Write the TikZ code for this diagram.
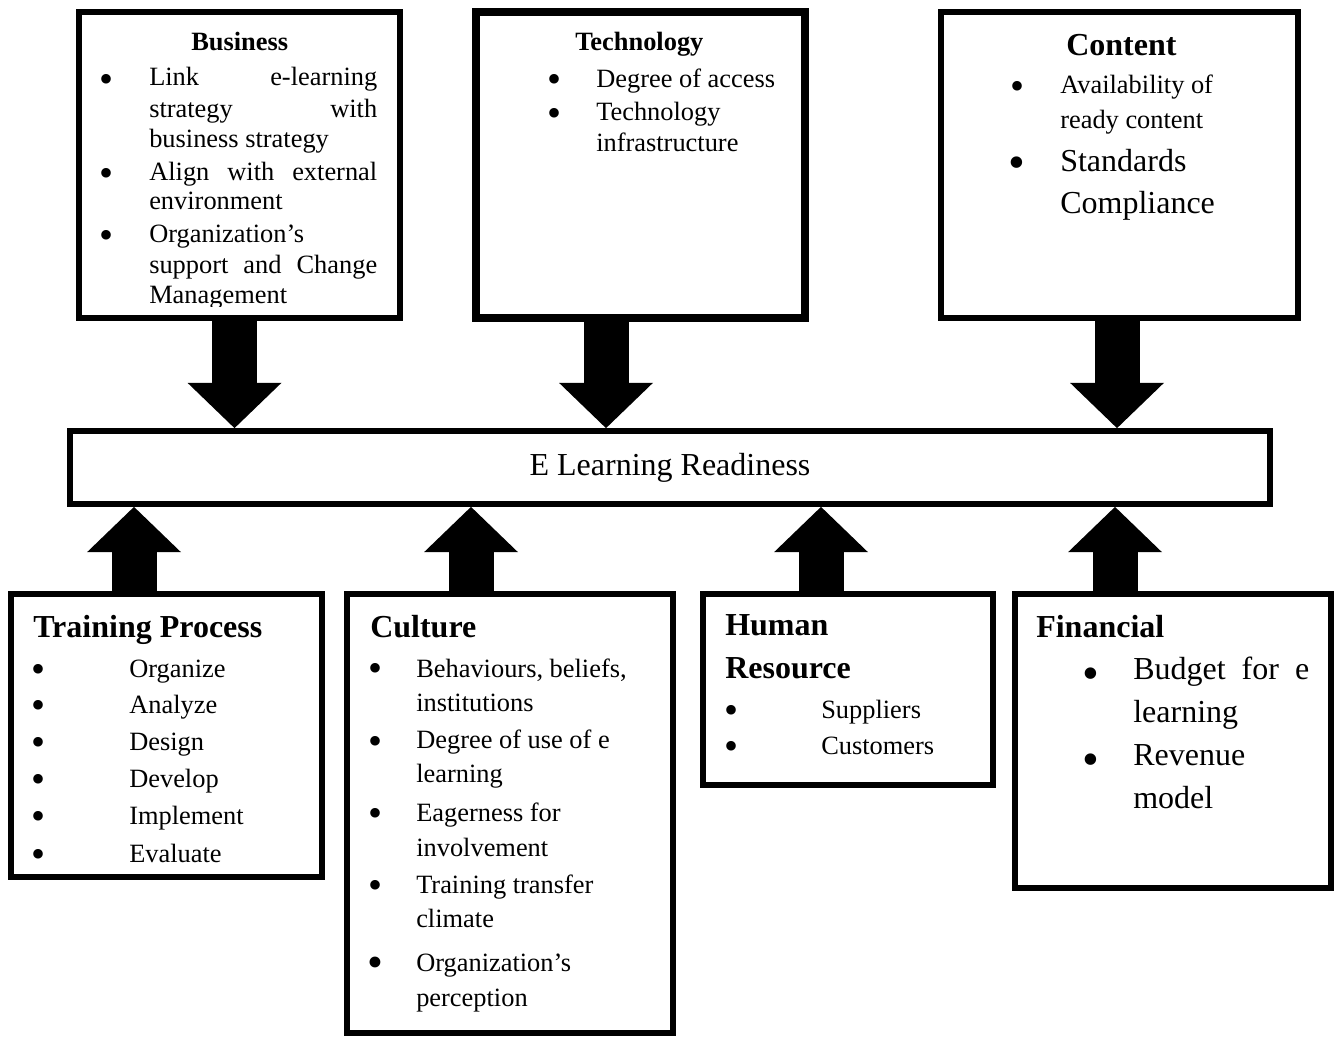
\documentclass[tikz,border=0pt]{standalone}
\usepackage{fontspec}
\setmainfont{Liberation Serif}
\usetikzlibrary{arrows.meta, calc, fit}
\newcommand\bodysize{\fontsize{19.8pt}{23pt}\selectfont}
\newcommand\headsize{\fontsize{24pt}{28pt}\selectfont}

\begin{document}
\begin{tikzpicture}[x=0.75pt, y=-0.75pt,
	box/.style={draw, line width=4.3pt, inner sep=0pt},
	txt/.style={anchor=base west, inner sep=0pt, font=\bodysize},
	bigtxt/.style={anchor=base west, inner sep=0pt, font=\headsize},
	head/.style={anchor=base west, inner sep=0pt, font=\headsize\bfseries},
	dot/.style={anchor=base, yshift=-10.2pt, inner sep=0pt, text height=14pt, text depth=0pt, font=\fontsize{30pt}{30pt}\selectfont},
	bigdot/.style={anchor=base, yshift=-12.2pt, inner sep=0pt, text height=17pt, text depth=0pt, font=\fontsize{36pt}{36pt}\selectfont},
	blockarrow/.style={line width=33.75pt, -{Triangle[length=34pt, width=70.5pt, line width=0pt]}}]
	\useasboundingbox (0,0) rectangle (1337,1036);

	\node[box, fit={(79,12) (400,318)}] (bus) {};
	\node[box, line width=5.5pt, fit={(476,12) (805,318)}] (tech) {};
	\node[box, fit={(941,12) (1298,318)}] (cont) {};
	\node[box, minimum width=900pt, minimum height=54.75pt] (elr) at (670,467.5) {};
	\node[font=\headsize, inner sep=0pt] (elr-label) at (elr.center) {E Learning Readiness};
	\node[box, fit={(11,594) (322,877)}] (train) {};
	\node[box, fit={(347,594) (673,1033)}] (cult) {};
	\node[box, fit={(703,594) (993,785)}] (hr) {};
	\node[box, fit={(1015,594) (1331,888)}] (fin) {};

	\foreach \n/\dx in {bus/-5, tech/-34.5, cont/-2.5}{
		\coordinate (\n-root) at ($(\n.south)+(\dx,0)$);
		\draw[blockarrow] (\n-root) -- (\n-root |- elr.north);
	}
	\foreach \n/\dx in {train/-32.5, cult/-39, hr/-27, fin/-58}{
		\coordinate (\n-root) at ($(\n.north)+(\dx,0)$);
		\draw[blockarrow] (\n-root) -- (\n-root |- elr.south);
	}

	\node[txt, font=\bodysize\bfseries] (bus-head) at (191,50) {Business};
	\foreach \y in {79,173,235} \node[dot] (bus-dot\y) at (107,\y) {\textbullet};
	\begin{scope}
		\clip (80,12) rectangle (400,306);
		\foreach \y/\t [count=\i] in {85/{\makebox[171pt][s]{Link e-learning}}, 117/{\makebox[171pt][s]{strategy with}}, 147/business strategy, 180/{\makebox[171pt][s]{Align with external}}, 209/environment, 242/Organization’s, 273/{\makebox[171pt][s]{support and Change}}, 303/Management}
			\node[txt] (bus-\i) at (149,\y) {\t};
	\end{scope}

	\node[txt, font=\bodysize\bfseries] (tech-head) at (575,50) {Technology};
	\foreach \y in {79,113} \node[dot] (tech-dot\y) at (554,\y) {\textbullet};
	\foreach \y/\t [count=\i] in {87/Degree of access, 120/Technology, 151/infrastructure}
		\node[txt] (tech-\i) at (596,\y) {\t};

	\node[head] (cont-head) at (1066,55) {Content};
	\node[dot] (cont-dot1) at (1017,86) {\textbullet};
	\node[bigdot] (cont-dot2) at (1017,162) {\textbullet};
	\node[txt] (cont-1) at (1060,93) {Availability of};
	\node[txt] (cont-2) at (1060,128) {ready content};
	\node[bigtxt] (cont-3) at (1060,171) {Standards};
	\node[bigtxt] (cont-4) at (1060,213) {Compliance};

	\node[head] (train-head) at (33,637) {Training Process};
	\foreach \y/\t [count=\i] in {677/Organize, 713/Analyze, 750/Design, 787/Develop, 824/Implement, 862/Evaluate}{
		\node[dot] (train-dot\i) at (39,\y-8) {\textbullet};
		\node[txt] (train-\i) at (129,\y) {\t};
	}

	\node[head] (cult-head) at (370,637) {Culture};
	\foreach \y in {668,741,813,885} \node[dot] (cult-dot\y) at (375,\y) {\textbullet};
	\node[dot, yshift=-1.4pt, font=\fontsize{34pt}{34pt}\selectfont] (cult-dot962) at (375,962) {\textbullet};
	\foreach \y/\t [count=\i] in {677/{Behaviours, beliefs,}, 711/institutions, 748/Degree of use of e, 782/learning, 821/Eagerness for, 856/involvement, 893/Training transfer, 927/climate, 971/Organization’s, 1006/perception}
		\node[txt] (cult-\i) at (416,\y) {\t};

	\node[head] (hr-head1) at (725,635) {Human};
	\node[head] (hr-head2) at (725,678) {Resource};
	\foreach \y/\t [count=\i] in {718/Suppliers, 754/Customers}{
		\node[dot] (hr-dot\i) at (731,\y-8) {\textbullet};
		\node[txt] (hr-\i) at (821,\y) {\t};
	}

	\node[head] (fin-head) at (1036,637) {Financial};
	\foreach \y in {673,759} \node[bigdot] (fin-dot\y) at (1091,\y) {\textbullet};
	\foreach \y/\t [count=\i] in {679/{\makebox[132pt][s]{Budget for e}}, 722/learning, 765/Revenue, 808/model}
		\node[bigtxt] (fin-\i) at (1133,\y) {\t};
\end{tikzpicture}
\end{document}
